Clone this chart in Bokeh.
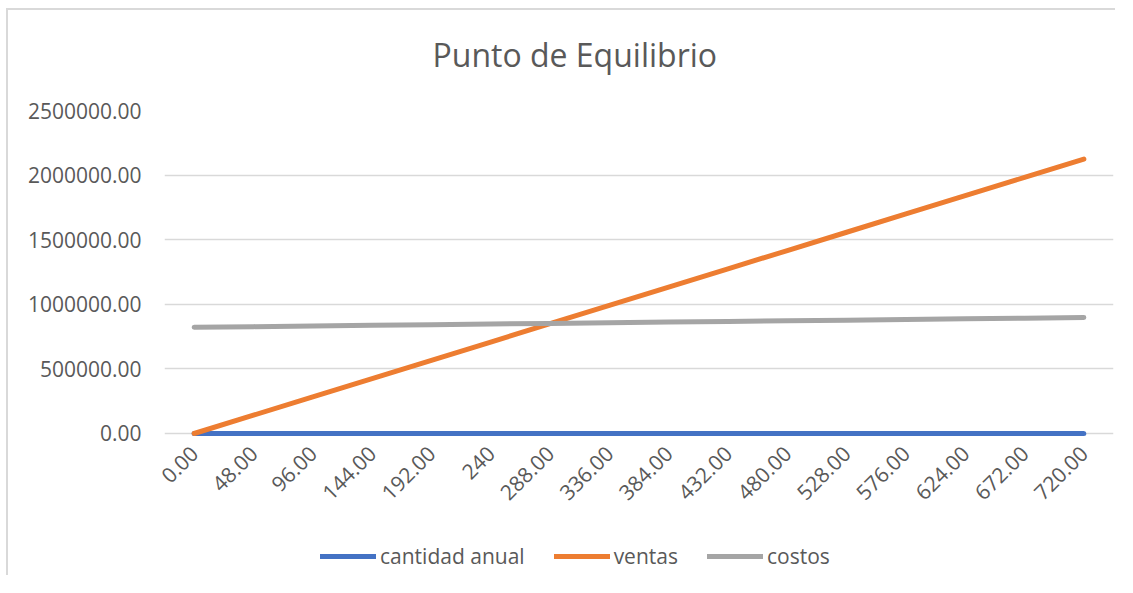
from bokeh.plotting import figure
from bokeh.layouts import column
from bokeh.models import (FactorRange, FixedTicker, NumeralTickFormatter, Legend, LegendItem,
                          ColumnDataSource, Range1d, Title)
from bokeh.embed import file_html
from bokeh.resources import INLINE
from math import pi

categories = ["0.00", "48.00", "96.00", "144.00", "192.00", "240", "288.00", "336.00",
              "384.00", "432.00", "480.00", "528.00", "576.00", "624.00", "672.00", "720.00"]
cantidad_anual = [0, 48, 96, 144, 192, 240, 288, 336, 384, 432, 480, 528, 576, 624, 672, 720]
ventas = [0, 141600, 283200, 424800, 566400, 708000, 849600, 991200, 1132800, 1274400,
          1416000, 1557600, 1699200, 1840800, 1982400, 2124000]
costos = [822000, 827040, 832080, 837120, 842160, 847200, 852240, 857280, 862320, 867360,
          872400, 877440, 882480, 887520, 892560, 897600]
y_ticks = [0, 500000, 1000000, 1500000, 2000000, 2500000]
series_names = ["cantidad anual", "ventas", "costos"]
series_colors = ["#4472C4", "#ED7D31", "#A5A5A5"]

FONT = "Open Sans"
TXT = "#595959"

src = ColumnDataSource(dict(x=categories, c=cantidad_anual, v=ventas, k=costos))
fields = ["c", "v", "k"]

p = figure(width=1109, height=515, x_range=FactorRange(*categories, range_padding=0),
           y_range=Range1d(-31000, 2500000), output_backend="svg", toolbar_location=None,
           min_border_left=156, min_border_right=4, min_border_top=100, min_border_bottom=88)

# main title, with a small spacer title between it and the frame
p.title.text = "Punto de Equilibrio"
p.title.text_font = FONT
p.title.text_font_size = "32px"
p.title.text_font_style = "normal"
p.title.text_color = TXT
p.title.align = "left"
p.title.offset = 268
p.title.standoff = 20
spacer = Title(text=" ", text_font_size="10px", standoff=12)
p.add_layout(spacer, "above")

p.outline_line_color = None
p.background_fill_color = "white"
p.border_fill_color = "white"

p.yaxis.ticker = FixedTicker(ticks=y_ticks)
p.yaxis.formatter = NumeralTickFormatter(format="0.00")
for ax in (p.xaxis, p.yaxis):
    ax.axis_line_color = None
    ax.major_tick_line_color = None
    ax.minor_tick_line_color = None
    ax.major_tick_out = 0
    ax.major_tick_in = 0
    ax.major_label_text_font = FONT
    ax.major_label_text_font_size = "21px"
    ax.major_label_text_color = TXT
p.yaxis.major_label_standoff = 23
p.xaxis.major_label_orientation = pi / 4
p.xaxis.major_label_standoff = 12

p.xgrid.grid_line_color = None
p.ygrid.grid_line_color = "#d9d9d9"
p.ygrid.grid_line_width = 1.5

for f, col in zip(fields, series_colors):
    p.line("x", f, source=src, line_color=col, line_width=5, line_cap="round")

# legend strip below the chart
q = figure(width=1109, height=52, x_range=FactorRange(*categories, range_padding=0),
           y_range=Range1d(-2, -1), output_backend="svg", toolbar_location=None,
           x_axis_type=None, y_axis_type=None, min_border=0)
q.outline_line_color = None
q.xgrid.grid_line_color = None
q.ygrid.grid_line_color = None
items = []
for f, col, name in zip(fields, series_colors, series_names):
    r = q.line("x", f, source=src, line_color=col, line_width=5, line_cap="round")
    items.append(LegendItem(label=name, renderers=[r]))

legend = Legend(items=items, orientation="horizontal", location=(156, 7),
                glyph_width=56, label_standoff=4, spacing=29, padding=0, margin=0,
                label_text_font=FONT, label_text_font_size="21px", label_text_color=TXT,
                border_line_color=None, background_fill_alpha=0)
q.add_layout(legend, "center")

layout = column(p, q, spacing=0)
layout.margin = (10, 0, 0, 8)
layout.styles = {"box-shadow": "-2px -2px 0 0 #d9d9d9"}
open("out.html", "w").write(file_html(layout, INLINE))
